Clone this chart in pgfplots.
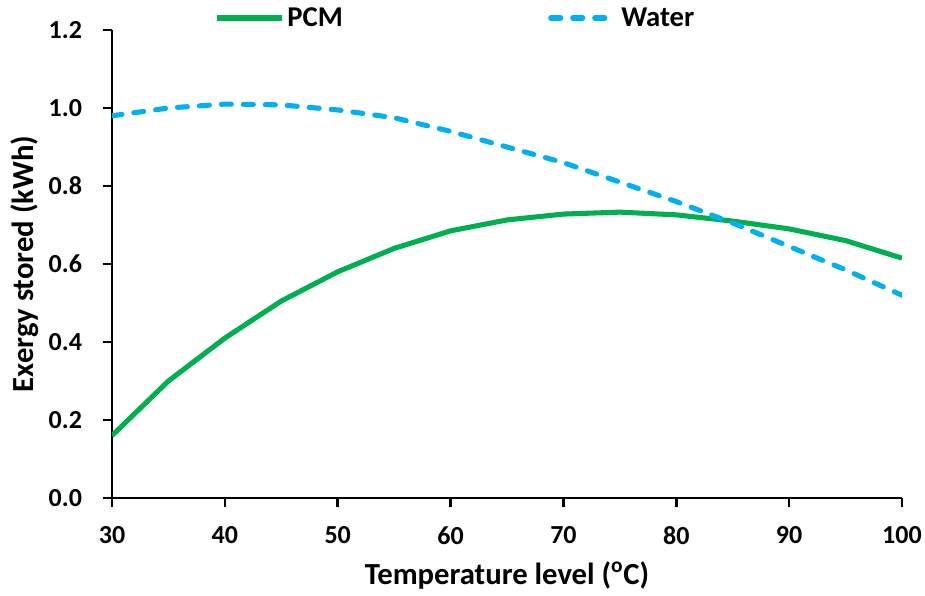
\documentclass[border=0pt]{standalone}
\usepackage{fontspec}
\setmainfont{Carlito}
\usepackage{pgfplots}
\pgfplotsset{compat=1.18}
\definecolor{pcmgreen}{RGB}{0,176,80}
\definecolor{waterblue}{RGB}{0,176,240}
\begin{document}
\begin{tikzpicture}
\begin{axis}[
    name=ax,
    scale only axis,
    width=592.5pt, height=351pt,
    xmin=30, xmax=100, ymin=0, ymax=1.2,
    xtick={30,40,...,100},
    ytick={0,0.2,...,1.2},
    axis lines=left,
    axis line style={line width=2.2pt, -},
    tick style={line width=2pt, black},
    major tick length=7pt,
    tick align=outside,
    /pgf/number format/assume math mode=true,
    yticklabel style={xshift=-12pt, /pgf/number format/fixed,
      /pgf/number format/fixed zerofill, /pgf/number format/precision=1},
    xticklabel style={yshift=-11pt},
    ticklabel style={font=\fontsize{19.5}{23}\selectfont\bfseries},
    xlabel={Temperature level (\textsuperscript{o}C)},
    ylabel={Exergy stored (kWh)},
    every axis x label/.style={at={([yshift=-58.5pt]axis description cs:0.5,0)},
      anchor=center, font=\fontsize{23}{27}\selectfont\bfseries},
    every axis y label/.style={at={([xshift=-65.5pt]axis description cs:0,0.5)},
      rotate=90, anchor=center, font=\fontsize{23}{27}\selectfont\bfseries},
    legend style={draw=none, at={(0.435,1.0256)}, anchor=center,
      legend columns=2, font=\fontsize{21.5}{25}\selectfont\bfseries,
      /tikz/every even column/.append style={column sep=152pt}},
    legend image code/.code={\draw[#1] (0pt,0pt) -- (49pt,0pt);},
  ]
  \addplot[pcmgreen, line width=3.8pt, line join=round] coordinates {
    (30,0.160) (35,0.300) (40,0.410) (45,0.505) (50,0.580) (55,0.640)
    (60,0.685) (65,0.713) (70,0.728) (75,0.733) (80,0.726) (85,0.710)
    (90,0.690) (95,0.660) (100,0.615)
  };
  \addplot[waterblue, line width=3.8pt, line cap=round, dash pattern=on 7.5pt off 9pt] coordinates {
    (30,0.980) (35,1.000) (40,1.010) (45,1.008) (50,0.995) (55,0.975)
    (60,0.940) (65,0.900) (70,0.860) (75,0.810) (80,0.760) (85,0.705)
    (90,0.645) (95,0.585) (100,0.520)
  };
  \legend{PCM, Water}
\end{axis}
\pgfresetboundingbox
\path ([xshift=-84pt,yshift=-72.75pt]ax.south west) rectangle ([xshift=17.25pt,yshift=22.5pt]ax.north east);
\end{tikzpicture}
\end{document}
